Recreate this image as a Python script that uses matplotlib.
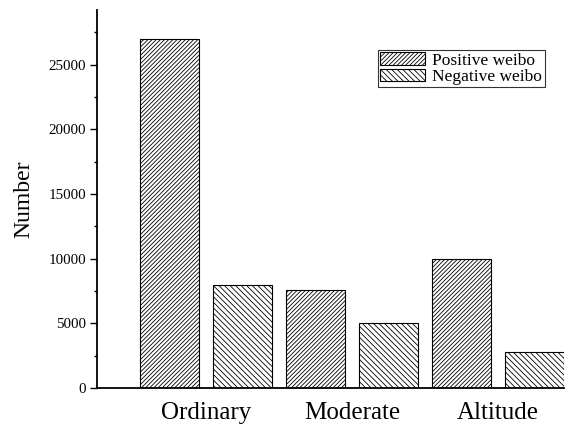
import numpy as np
import matplotlib.pyplot as plt
from matplotlib.ticker import MultipleLocator

plt.rcParams['font.family'] = ['Liberation Serif', 'DejaVu Serif']
plt.rcParams['hatch.linewidth'] = 0.6

categories = ["Ordinary", "Moderate", "Altitude"]
positive = [27000, 7600, 10000]
negative = [8000, 5000, 2800]

fig = plt.figure(figsize=(5.66, 4.25), dpi=100)
ax = fig.add_axes([0.1714, 0.087, 0.825, 0.889])

# bars alternate positive/negative at unit spacing
pos_x = np.arange(len(categories)) * 2
neg_x = pos_x + 1
w = 0.81
ax.bar(pos_x, positive, w, facecolor="white", edgecolor="black", linewidth=0.8,
       hatch="/" * 8, label="Positive weibo")
ax.bar(neg_x, negative, w, facecolor="white", edgecolor="black", linewidth=0.8,
       hatch="\\" * 6, label="Negative weibo")

ax.set_xlim(-0.99, 5.4)
ax.set_ylim(0, 29200)
ax.set_xticks(pos_x + 0.5)
ax.set_xticklabels(categories, fontsize=18)
ax.tick_params(axis="x", length=0, pad=10)
ax.yaxis.set_major_locator(MultipleLocator(5000))
ax.yaxis.set_minor_locator(MultipleLocator(2500))
ax.tick_params(axis="y", which="major", length=5, width=1, labelsize=10.8, pad=3)
ax.tick_params(axis="y", which="minor", length=2.5, width=1)
ax.set_ylabel("Number", fontsize=17, labelpad=10)

for s in ["top", "right"]:
    ax.spines[s].set_visible(False)
for s in ["left", "bottom"]:
    ax.spines[s].set_linewidth(1.3)

leg = ax.legend(loc="upper left", bbox_to_anchor=(0.601, 0.895), fontsize=12.5,
                frameon=True, fancybox=False, edgecolor="black", borderpad=0.15,
                handlelength=2.6, handleheight=0.7, handletextpad=0.4,
                labelspacing=0.0, borderaxespad=0)
leg.get_frame().set_linewidth(0.8)

fig.savefig("out.png", dpi=100)
